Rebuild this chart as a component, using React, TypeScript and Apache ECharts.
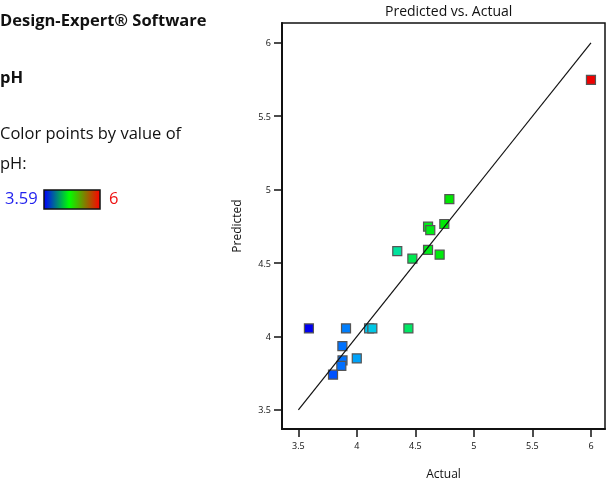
import React, { useEffect, useRef } from "react";
import * as echarts from "echarts";

const actual = [3.59, 3.907, 4.104, 4.132, 4.44, 3.876, 3.877, 3.867, 3.999, 3.796, 4.79, 4.608, 4.627, 4.747, 4.345, 4.608, 4.474, 4.707, 6.0];
const predicted = [4.055, 4.055, 4.055, 4.055, 4.055, 3.934, 3.837, 3.8, 3.851, 3.74, 4.935, 4.748, 4.725, 4.766, 4.582, 4.59, 4.53, 4.557, 5.747];
const tickValues = [3.5, 4, 4.5, 5, 5.5, 6];
const phMin = 3.59;
const phMax = 6;
const colorStops = ["#0000f0", "#0060ff", "#00c0f8", "#00e0b0", "#00ee20", "#00e800", "#40c000", "#80a000", "#b06000", "#d83000", "#ee0000"];

export default function App() {
  const ref = useRef<HTMLDivElement>(null);
  useEffect(() => {
    const chart = echarts.init(ref.current!, undefined, { renderer: "svg" });
    const font = "'Open Sans', 'Noto Sans', sans-serif";
    const points = actual.map((a, i) => [a, predicted[i]]);
    chart.setOption({
      animation: false,
      title: {
        text: "Predicted vs. Actual",
        left: 380,
        top: -2,
        textStyle: { fontFamily: font, fontSize: 14, fontWeight: "normal", color: "#111" },
      },
      grid: {
        left: 282,
        top: 23,
        right: 3,
        bottom: 51,
        show: true,
        borderColor: "#111",
        borderWidth: 1.5,
      },
      xAxis: {
        type: "value",
        min: 3.36,
        max: 6.12,
        name: "Actual",
        nameLocation: "middle",
        nameGap: 38,
        nameTextStyle: { fontFamily: font, fontSize: 12, color: "#111" },
        splitLine: { show: false },
        axisLine: { onZero: false, lineStyle: { color: "#111", width: 2 } },
        axisTick: { customValues: tickValues, length: 8, lineStyle: { color: "#111", width: 1.5 } },
        axisLabel: { customValues: tickValues, fontFamily: font, fontSize: 9, color: "#111", margin: 12 },
      },
      yAxis: {
        type: "value",
        min: 3.37,
        max: 6.135,
        name: "Predicted",
        nameLocation: "middle",
        nameGap: 40,
        nameTextStyle: { fontFamily: font, fontSize: 12, color: "#111" },
        splitLine: { show: false },
        axisLine: { onZero: false, lineStyle: { color: "#111", width: 2 } },
        axisTick: { customValues: tickValues, length: 8, lineStyle: { color: "#111", width: 1.5 } },
        axisLabel: { customValues: tickValues, fontFamily: font, fontSize: 9, color: "#111", margin: 11 },
      },
      visualMap: {
        show: false,
        type: "continuous",
        min: phMin,
        max: phMax,
        dimension: 0,
        seriesIndex: 1,
        inRange: { color: colorStops },
      },
      series: [
        {
          type: "line",
          data: [[3.5, 3.5], [6, 6]],
          showSymbol: false,
          symbol: "none",
          lineStyle: { color: "#111", width: 1.2 },
          silent: true,
        },
        {
          type: "scatter",
          data: points,
          symbol: "rect",
          symbolSize: 9,
          itemStyle: { borderColor: "#555", borderWidth: 1.2, opacity: 1 },
        },
      ],
      graphic: [
        { type: "text", left: 0, top: 11, style: { text: "Design-Expert® Software", font: `bold 16.5px ${font}`, fill: "#111" } },
        { type: "text", left: 0, top: 68, style: { text: "pH", font: `bold 16.5px ${font}`, fill: "#111" } },
        { type: "text", left: 0, top: 124, style: { text: "Color points by value of", font: `16.5px ${font}`, fill: "#111" } },
        { type: "text", left: 0, top: 154, style: { text: "pH:", font: `16.5px ${font}`, fill: "#111" } },
        { type: "text", left: 5, top: 189, style: { text: String(phMin), font: `16.5px ${font}`, fill: "#2222ee" } },
        {
          type: "rect",
          shape: { x: 44, y: 190, width: 56, height: 19 },
          style: {
            fill: new echarts.graphic.LinearGradient(0, 0, 1, 0, [
              { offset: 0, color: "#0000ff" },
              { offset: 0.45, color: "#00ff00" },
              { offset: 1, color: "#ff0000" },
            ]),
            stroke: "#111",
            lineWidth: 1.5,
          },
        },
        { type: "text", left: 109, top: 189, style: { text: String(phMax), font: `16.5px ${font}`, fill: "#ee1111" } },
      ],
    });
    return () => chart.dispose();
  }, []);
  return <div ref={ref} style={{ width: 608, height: 484, position: "fixed", left: 0, top: 0 }} />;
}
